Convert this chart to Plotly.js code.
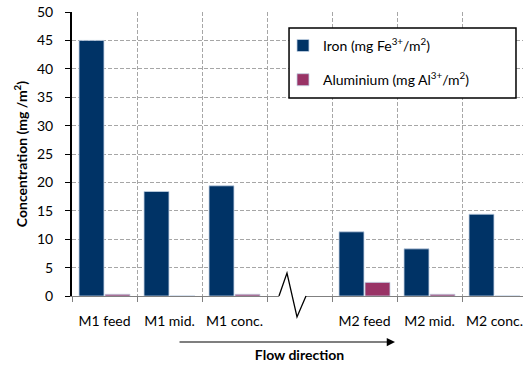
<!DOCTYPE html>
<html>
<head>
<meta charset="utf-8">
<script src="https://cdn.plot.ly/plotly-3.0.1.min.js"></script>
<style>html,body{margin:0;padding:0;overflow:hidden;background:#fff;}</style>
</head>
<body>
<div id="chart"></div>
<script>
// Data
const categories = ["M1 feed", "M1 mid.", "M1 conc.", " ", "M2 feed", "M2 mid.", "M2 conc."];
const ironValues = [45.0, 18.4, 19.4, null, 11.3, 8.3, 14.4];
const aluminiumValues = [0.3, 0, 0.3, null, 2.4, 0.3, 0];
const seriesNames = ["Iron (mg Fe<sup>3+</sup>/m<sup>2</sup>)", "Aluminium (mg Al<sup>3+</sup>/m<sup>2</sup>)"];

const FONT = "Lato, 'Open Sans', sans-serif";
const outline = {color: "rgba(195,210,228,1)", width: 0.8};

const traces = [
  {type: "bar", x: categories, y: ironValues, name: seriesNames[0], legendgroup: "a",
   marker: {color: "#003366", line: outline}},
  {type: "bar", x: categories, y: aluminiumValues, name: seriesNames[1], legendgroup: "b",
   marker: {color: "#993366", line: outline}}
];

const grid = "#A6A6A6";
const layout = {
  width: 540, height: 366,
  margin: {l: 72, r: 13, t: 12, b: 70},
  paper_bgcolor: "#fff", plot_bgcolor: "#fff",
  font: {family: FONT, size: 14, color: "#000"},
  barmode: "group", bargap: 0.2, bargroupgap: 0.04,
  showlegend: true,
  legend: {x: 0.4637, xanchor: "left", y: 0.937, yanchor: "top",
           bgcolor: "rgba(0,0,0,0)", borderwidth: 0, traceorder: "grouped",
           tracegroupgap: 13, font: {family: FONT, size: 14}},
  xaxis: {type: "category", categoryorder: "array", categoryarray: categories,
          tickson: "boundaries", ticks: "outside", ticklen: 5, tickcolor: "#808080",
          tickangle: 0, automargin: false,
          showgrid: true, gridcolor: grid, griddash: "4px,2px", gridwidth: 1,
          showline: true, linecolor: "#808080", linewidth: 1,
          ticklabelstandoff: 12, tickfont: {family: FONT, size: 14},
          title: {text: "Flow direction", font: {family: FONT, size: 14, weight: "bold"}, standoff: 22},
          fixedrange: true},
  yaxis: {range: [0, 50], dtick: 5, ticks: "outside", ticklen: 5, tickcolor: "#000",
          automargin: false,
          showgrid: true, gridcolor: grid, griddash: "4px,2px", gridwidth: 1,
          zeroline: false, showline: true, linecolor: "#000", linewidth: 2,
          ticklabelstandoff: 9, tickfont: {family: FONT, size: 14},
          title: {text: "Concentration (mg /m<sup>2</sup>)", font: {family: FONT, size: 14, weight: "bold"}, standoff: 6},
          fixedrange: true},
  shapes: [
    // legend box
    {type: "rect", xref: "paper", yref: "paper", x0: 0.477, x1: 0.9758, y0: 0.697, y1: 0.9437,
     fillcolor: "#fff", line: {color: "#000", width: 1.5}, layer: "above"},
    // axis break cover
    {type: "rect", xref: "paper", yref: "paper", x0: 0.4549, x1: 0.5143, y0: -0.007, y1: 0.007,
     fillcolor: "#fff", line: {width: 0}, layer: "above"},
    // zigzag
    {type: "path", xref: "paper", yref: "paper",
     path: "M0.4549,0 L0.4725,0.081 L0.4945,-0.0739 L0.5143,0",
     line: {color: "#000", width: 1.3}, layer: "above"}
  ],
  annotations: [
    {xref: "paper", yref: "paper", x: 0.7099, y: -0.162, ax: -217, ay: 0,
     axref: "pixel", ayref: "pixel", text: "", showarrow: true,
     arrowhead: 2, arrowsize: 1.5, arrowwidth: 1.1, arrowcolor: "#000"}
  ]
};

Plotly.newPlot("chart", traces, layout, {displayModeBar: false, staticPlot: true});
</script>
</body>
</html>
